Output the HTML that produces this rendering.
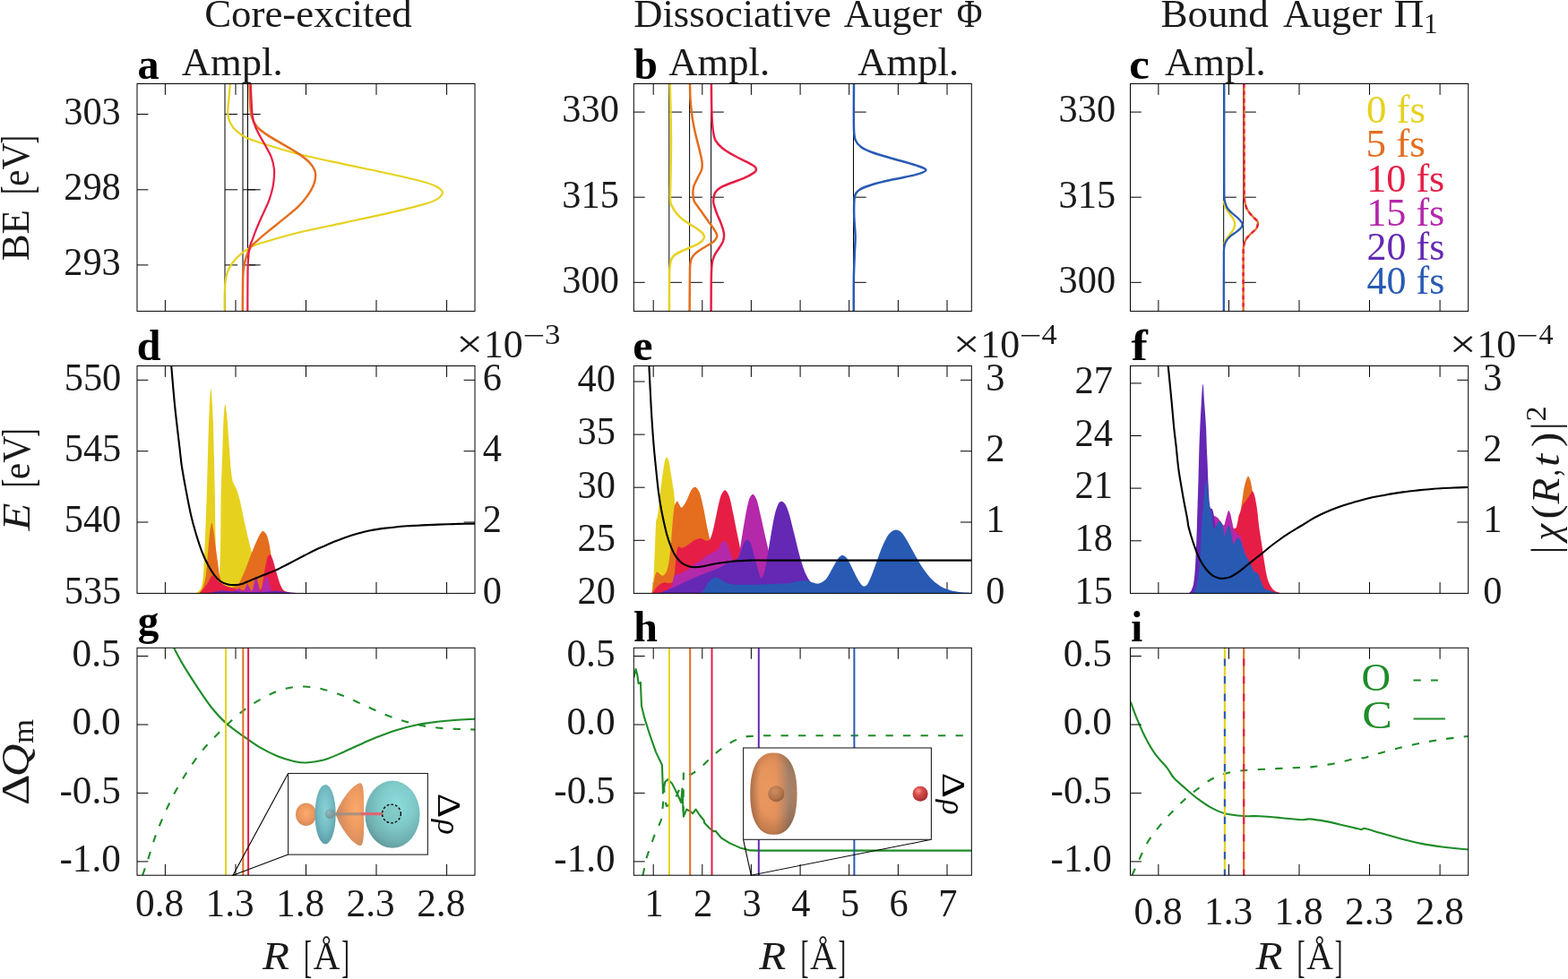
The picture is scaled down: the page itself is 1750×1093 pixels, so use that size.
<!DOCTYPE html>
<html lang="en"><head><meta charset="utf-8"><title>Figure</title>
<style>
html,body{margin:0;padding:0;background:#fff;}
body{width:1750px;height:1093px;overflow:hidden;}
svg{display:block;font-family:'Liberation Serif',serif;fill:#1a1a1a;}
</style></head><body>
<svg width="1750" height="1093" viewBox="0 0 1750 1093">
<defs>
<clipPath id="c00"><rect x="153" y="93.5" width="377" height="253.9"/></clipPath>
<clipPath id="c10"><rect x="153" y="408.5" width="377" height="253.9"/></clipPath>
<clipPath id="c20"><rect x="153" y="723.3" width="377" height="253.9"/></clipPath>
<clipPath id="c01"><rect x="707.3" y="93.5" width="377" height="253.9"/></clipPath>
<clipPath id="c11"><rect x="707.3" y="408.5" width="377" height="253.9"/></clipPath>
<clipPath id="c21"><rect x="707.3" y="723.3" width="377" height="253.9"/></clipPath>
<clipPath id="c02"><rect x="1261.5" y="93.5" width="377.2" height="253.9"/></clipPath>
<clipPath id="c12"><rect x="1261.5" y="408.5" width="377.2" height="253.9"/></clipPath>
<clipPath id="c22"><rect x="1261.5" y="723.3" width="377.2" height="253.9"/></clipPath>
<radialGradient id="gcy" cx="0.58" cy="0.36" r="0.78"><stop offset="0" stop-color="#8cdcdc"/><stop offset="0.4" stop-color="#80caca"/><stop offset="0.7" stop-color="#70b0b2"/><stop offset="0.9" stop-color="#5f9094"/><stop offset="1" stop-color="#50787c"/></radialGradient>
<radialGradient id="gcy2" cx="0.5" cy="0.42" r="0.75"><stop offset="0" stop-color="#86d2d6"/><stop offset="0.45" stop-color="#74bcc4"/><stop offset="0.8" stop-color="#5c9ca8"/><stop offset="1" stop-color="#4a7e8a"/></radialGradient>
<radialGradient id="gor" cx="0.5" cy="0.45" r="0.75"><stop offset="0" stop-color="#fcaa6c"/><stop offset="0.45" stop-color="#ee9860"/><stop offset="0.8" stop-color="#d08858"/><stop offset="1" stop-color="#a87050"/></radialGradient>
<radialGradient id="gor3" cx="0.72" cy="0.42" r="0.85"><stop offset="0" stop-color="#fcaa6a"/><stop offset="0.4" stop-color="#ec9860"/><stop offset="0.8" stop-color="#c88a60"/><stop offset="1" stop-color="#9a7258"/></radialGradient>
<linearGradient id="gor2" x1="0" y1="0" x2="1" y2="0"><stop offset="0" stop-color="#c88458"/><stop offset="0.22" stop-color="#f29c62"/><stop offset="0.55" stop-color="#ec965e"/><stop offset="0.74" stop-color="#c08c68"/><stop offset="0.84" stop-color="#a88872"/><stop offset="1" stop-color="#c89472"/></linearGradient>
<radialGradient id="gsh" cx="0.5" cy="0.45" r="0.62"><stop offset="0" stop-color="#6a4228" stop-opacity="0"/><stop offset="0.55" stop-color="#6a4228" stop-opacity="0.08"/><stop offset="0.85" stop-color="#6a4228" stop-opacity="0.35"/><stop offset="1" stop-color="#5a3822" stop-opacity="0.7"/></radialGradient>
<radialGradient id="gred" cx="0.38" cy="0.32" r="0.75"><stop offset="0" stop-color="#f49a92"/><stop offset="0.35" stop-color="#dc4c48"/><stop offset="1" stop-color="#9a2a2e"/></radialGradient>
<radialGradient id="gbr" cx="0.4" cy="0.35" r="0.75"><stop offset="0" stop-color="#cc8e62"/><stop offset="0.6" stop-color="#b4744a"/><stop offset="1" stop-color="#84553a"/></radialGradient>
<radialGradient id="ggr" cx="0.4" cy="0.35" r="0.7"><stop offset="0" stop-color="#a4acae"/><stop offset="1" stop-color="#6a7478"/></radialGradient>
</defs>
<path d="M251 93.5V347.4M251 127.5h14.2M251 211.8h14.2M251 295.9h14.2M271 93.5V347.4M271 127.5h14.2M271 211.8h14.2M271 295.9h14.2M276.5 93.5V347.4M276.5 127.5h14.2M276.5 211.8h14.2M276.5 295.9h14.2" fill="none" stroke="#000" stroke-width="1"/>
<g clip-path="url(#c00)" fill="none" stroke-width="2.2" stroke-linejoin="round">
<path d="M256.9 93.3C256.6 96.2 255.8 105 255.4 110.6C255 116 254 122.3 254.3 126.9C254.6 130.7 255.7 134.7 257.4 138C259.1 141.3 261.5 144.2 264.3 146.6C267.4 149.3 272 152.3 276.3 154.3C281.1 156.6 287.6 158.5 293.4 160.3C302.8 163.2 319.6 168.6 332.9 172C348 175.8 367.2 179.7 384.3 183.4C401.4 187.1 421.4 191 435.7 194.2C447.2 196.7 461.4 200 470 202.3C475.8 203.9 483.1 206.2 487.1 208.3C489.9 209.8 494 212.7 494 215.1C494 217.5 490.1 221.2 487.1 222.9C483.1 225.2 475.8 227.3 470 228.9C461.4 231.3 447.2 234.8 435.7 237.4C421.4 240.7 401.4 244.9 384.3 248.6C367.2 252.3 347.2 256.3 332.9 259.7C321.4 262.5 307.5 266.5 298.6 269.2C292.2 271.2 285.5 272.9 279.7 276C273.9 279.1 268.2 283.7 264 288C260.1 292 256.6 297 254.5 302C252.4 307 251.7 312.6 251.2 318C250.5 325.6 250.7 342.4 250.6 347.3" stroke="#e6d21e"/>
<path d="M278.6 93.3C278.7 97 278.9 109.7 279.2 115.7C279.5 120.3 279.4 125.1 280.6 129.4C281.8 133.7 283.7 138 286.6 141.4C289.6 145 294.4 148 298.6 150.9C303.4 154.2 310 157.7 315.7 161.1C321.4 164.5 328 168.1 332.9 171.4C337.1 174.3 341.9 177.9 344.9 180.9C347.4 183.4 349.7 186.8 350.9 189.4C351.9 191.5 352.3 194 352.2 196.3C352.1 199.2 351.3 203.3 350 206.6C348.5 210.3 345.8 214.8 343.1 218.6C340.2 222.6 336.7 227 332.9 230.6C328.3 235 321.4 240.4 315.7 245.1C310.1 249.8 303.5 254.9 298.6 258.9C294.5 262.2 289.8 266.2 286.6 269.1C284.2 271.3 281.5 273.3 279.7 276C277.7 279.2 275.7 284 274.4 288.2C273 292.5 272.1 297.3 271.6 302C271 307 271.1 312.7 271 318C270.9 325.6 270.8 342.4 270.8 347.3" stroke="#e46e1e" stroke-width="2.5"/>
<path d="M279.7 93.3C279.9 96.5 280.2 106.3 280.6 112.3C280.9 118 281.1 124.6 281.8 129.4C282.4 133.5 283.5 137.7 284.9 141.4C286.2 145 288.2 148.3 290 151.7C292 155.4 294.8 159.7 296.9 163.7C299 167.6 301.4 171.7 302.9 175.7C304.3 179.6 305.3 184.3 305.8 187.7C306.2 190.5 306.2 193.4 306 196.3C305.8 199.7 305.4 204.4 304.6 208.3C303.7 212.9 302.1 218.7 300.3 223.7C298.4 228.8 295.7 234 293.4 239.1C291.1 244.2 288.6 249.7 286.6 254.6C284.7 259.1 282.7 264.7 281.4 268.3C280.4 270.9 279.1 273.3 278.6 276C277.9 279.6 277.3 285.3 277 290C276.6 294.8 276.6 300 276.5 305C276.4 314.6 276.3 340.2 276.3 347.3" stroke="#e61e46"/>
</g>
<path d="M184.4 93.5v12.4 M184.4 347.4v-12.4M263 93.5v12.4 M263 347.4v-12.4M341.5 93.5v12.4 M341.5 347.4v-12.4M420 93.5v12.4 M420 347.4v-12.4M498.6 93.5v12.4 M498.6 347.4v-12.4M153 127.5h12.4M153 211.8h12.4M153 295.9h12.4" fill="none" stroke="#000" stroke-width="1"/>
<rect x="153" y="93.5" width="377" height="253.9" fill="none" stroke="#000" stroke-width="1"/>
<path d="M746.8 93.5V347.4M746.8 125.1h14.2M746.8 220.2h14.2M746.8 315.3h14.2M769.6 93.5V347.4M769.6 125.1h14.2M769.6 220.2h14.2M769.6 315.3h14.2M793.6 93.5V347.4M793.6 125.1h14.2M793.6 220.2h14.2M793.6 315.3h14.2M952.5 93.5V347.4M952.5 125.1h14.2M952.5 220.2h14.2M952.5 315.3h14.2" fill="none" stroke="#000" stroke-width="1"/>
<g clip-path="url(#c01)" fill="none" stroke-width="2.5" stroke-linejoin="round">
<path d="M747.7 93.3C747.8 98.5 748.3 114 748.5 124.3C748.7 135.2 749 147.2 749 158.6C749 170 748.7 183.2 748.5 192.9C748.4 200.9 748 211.6 748 216.9C748 219.6 747.9 222.9 748.2 225C748.4 226.6 749 228.1 749.7 229.6C750.6 231.5 752.1 234.3 753.7 236.4C755.5 238.8 758.1 241.7 760.6 243.9C763.1 246.1 765.9 247.8 768.6 249.6C771.5 251.5 775.2 253.5 777.8 255.3C780 256.8 782.7 258.8 784.1 260.4C785.2 261.7 786.1 263.6 786 265C785.9 266.4 784.6 267.9 783.5 269C782.1 270.3 779.8 271.9 777.8 273C775.3 274.3 771.6 275.7 768.6 277C765.6 278.3 762.2 279.7 759.5 281C757.1 282.2 754.3 283.6 752.6 285C751.1 286.2 750 287.9 749.2 289.6C748.4 291.4 748.1 293.8 747.8 295.9C747.4 298.5 747.2 302 747.1 305C747 313.6 746.9 340.3 746.9 347.4" stroke="#e6d21e"/>
<path d="M770 93.3C770.1 96.5 770.1 106 770.6 112.3C771.1 118.9 772 126.6 772.9 132.9C773.8 138.6 775 144.3 776.3 150C777.6 155.7 779.4 161.9 780.6 167.1C781.7 171.7 783.1 177.2 783.5 180.9C783.8 183.7 783.8 186.7 783.1 189.4C782.3 192.2 780.3 195.1 778.9 198C777.4 201.2 775.1 205.2 774.2 208.3C773.4 211.1 773.3 214.1 773.4 216.9C773.5 219.6 774 222.7 774.9 225C775.8 227.2 777.6 228.8 778.9 230.7C780.5 233 782.7 236 784.6 238.7C786.5 241.4 788.4 244 790.3 246.7C792.2 249.4 794.6 252.4 796.1 254.7C797.3 256.5 798.8 258.8 799.5 260.4C800 261.7 800.5 263.2 800.1 264.5C799.7 265.9 798.5 267.7 797.2 269C795.8 270.4 793.5 271.8 791.5 273C789.4 274.3 786.9 275.6 784.6 277C782.3 278.4 779.7 280.1 777.8 281.6C776.1 283 774.4 284.6 773.2 286.2C772.1 287.7 771.3 289.5 770.9 291.3C770.4 293.5 770.1 296.6 770 299.3C769.8 308.6 769.7 339.4 769.6 347.4" stroke="#e46e1e"/>
<path d="M793.9 93.3C794 98.5 794 115.7 794.3 124.3C794.5 131.2 795 139.5 795.7 144.9C796.2 149 796.8 153.5 798.6 156.9C800.4 160.3 803.3 163 806.3 165.4C809.9 168.2 815.4 171.4 820 174C824.5 176.5 830 178.9 833.7 180.9C836.6 182.5 840.6 184.6 842.3 186C843.3 186.8 844.1 188.2 844 189.4C843.9 190.6 842.6 192.1 841.4 192.9C839.1 194.5 834.1 197.2 830.3 198.9C826.2 200.8 820.9 202.3 816.6 204C812.6 205.6 807.7 207.2 804.6 209.1C802.1 210.6 799.5 212.5 798.1 215.1C796.7 217.8 796.1 222.2 796.1 225C796.1 227.4 797.1 229.6 797.8 231.9C798.5 234.4 799.6 237.3 800.6 239.9C801.7 242.6 803.1 245.2 804.1 247.9C805.1 250.5 806.2 253.4 806.9 255.9C807.5 258.1 808.1 260.4 808.1 262.7C808.1 265 807.7 267.4 806.9 269.6C806 271.9 804.3 274.2 802.9 276.5C801.5 278.8 799.5 281 798.3 283.3C797.1 285.5 796.1 287.8 795.5 290.2C794.8 292.7 794.5 295.5 794.3 298.2C794 301.6 793.9 306.6 793.8 310.8C793.7 319 793.6 341.3 793.6 347.4" stroke="#e61e46"/>
<path d="M953 93.3C953 101.8 952.7 133.6 953 144.1C953.1 148.1 953.3 152.8 954.6 156.1C955.8 159.2 958.1 162 960.8 164C964.1 166.4 969.7 168.8 974.5 170.5C980.8 172.8 990.5 175.3 998.5 177.7C1006.5 180 1016.7 182.6 1022.5 184.6C1026.3 185.9 1033.5 188 1033.5 189.7C1033.5 191.4 1026.4 193.8 1022.5 194.9C1016.7 196.6 1006.5 198.2 998.5 200C990.5 201.8 981.1 203.8 974.5 205.8C969.2 207.4 962.5 209.7 959.1 212C956.5 213.7 954.5 216.6 953.9 219.6C952.9 224.3 953.1 233.3 953.2 240.1C953.3 247.5 954.5 257.3 954.6 264.2C954.7 269.9 954.1 275.6 953.9 281.3C953.6 288.7 953.1 299.6 952.9 308.7C952.7 319.7 952.8 340.9 952.8 347.3" stroke="#285ab4"/>
</g>
<path d="M729.2 93.5v12.4 M729.2 347.4v-12.4M783.8 93.5v12.4 M783.8 347.4v-12.4M838.4 93.5v12.4 M838.4 347.4v-12.4M893.1 93.5v12.4 M893.1 347.4v-12.4M947.7 93.5v12.4 M947.7 347.4v-12.4M1002.4 93.5v12.4 M1002.4 347.4v-12.4M1057 93.5v12.4 M1057 347.4v-12.4M707.3 125.1h12.4M707.3 220.2h12.4M707.3 315.3h12.4" fill="none" stroke="#000" stroke-width="1"/>
<rect x="707.3" y="93.5" width="377" height="253.9" fill="none" stroke="#000" stroke-width="1"/>
<path d="M1365.7 93.5V347.4M1365.7 125.1h14.2M1365.7 220.2h14.2M1365.7 315.3h14.2M1387.6 93.5V347.4M1387.6 125.1h14.2M1387.6 220.2h14.2M1387.6 315.3h14.2" fill="none" stroke="#000" stroke-width="1"/>
<g clip-path="url(#c02)" fill="none" stroke-width="2.3" stroke-linejoin="round">
<path d="M1365.7 223.9C1366 225.1 1366.5 228.9 1367.5 231.2C1368.6 233.6 1370.6 236.2 1372.1 238.5C1373.6 240.7 1375.7 242.9 1376.7 244.9C1377.6 246.6 1378.2 248.6 1378.2 250.4C1378.2 252.2 1377.6 254.2 1376.7 255.9C1375.7 257.9 1373.6 260.2 1372.1 262.3C1370.7 264.3 1368.8 266.6 1367.8 268.3C1367.1 269.6 1366.5 271.8 1366.3 272.5" stroke="#e6d21e"/>
<path d="M1366.3 93.3C1366.3 114.3 1366.1 197.1 1366.3 219.3C1366.3 221.8 1366.8 224.3 1367.5 226.6C1368.2 228.8 1369 231.1 1370.3 233C1371.7 235 1373.8 236.8 1375.7 238.5C1377.7 240.3 1380.5 242.3 1382.2 244C1383.6 245.4 1385.3 247.5 1386 248.6C1386.4 249.2 1386.6 250.1 1386.5 250.8C1386.4 251.7 1386.1 253.1 1385.4 254C1384.4 255.3 1382.1 257.2 1380.3 258.6C1378.4 260.1 1375.8 261.5 1373.9 263.2C1372 264.8 1370.1 266.9 1368.9 268.7C1367.8 270.4 1367.1 272.3 1366.6 274.2C1366.1 276.3 1365.9 279.1 1365.9 281.5C1365.8 293.7 1365.8 336.3 1365.8 347.3" stroke="#285ab4"/>
<path d="M1388.4 93.3C1388.4 109.4 1388.5 168.8 1388.6 190C1388.6 200.1 1388.5 213.8 1388.7 220.2C1388.8 223 1389.2 225.8 1389.9 228.4C1390.6 231 1391.7 233.5 1393.1 235.7C1394.5 238 1396.9 240.4 1398.6 242.2C1400.1 243.8 1402.3 245.5 1403.2 246.7C1403.8 247.5 1404 248.5 1403.9 249.5C1403.8 250.9 1403.3 253.4 1402.3 255C1401.3 256.7 1399.2 258 1397.7 259.5C1396 261.2 1393.7 263.2 1392.2 265C1390.9 266.7 1389.7 268.5 1389 270.5C1388.3 272.5 1388 274.7 1387.8 276.9C1387.6 280.1 1387.6 285.6 1387.6 290C1387.6 301.7 1387.6 337.8 1387.6 347.3" stroke="#e46e1e"/>
<path d="M1388.4 93.3C1388.4 109.4 1388.5 168.8 1388.6 190C1388.6 200.1 1388.5 213.8 1388.7 220.2C1388.8 223 1389.2 225.8 1389.9 228.4C1390.6 231 1391.7 233.5 1393.1 235.7C1394.5 238 1396.9 240.4 1398.6 242.2C1400.1 243.8 1402.3 245.5 1403.2 246.7C1403.8 247.5 1404 248.5 1403.9 249.5C1403.8 250.9 1403.3 253.4 1402.3 255C1401.3 256.7 1399.2 258 1397.7 259.5C1396 261.2 1393.7 263.2 1392.2 265C1390.9 266.7 1389.7 268.5 1389 270.5C1388.3 272.5 1388 274.7 1387.8 276.9C1387.6 280.1 1387.6 285.6 1387.6 290C1387.6 301.7 1387.6 337.8 1387.6 347.3" stroke="#e61e46" stroke-dasharray="4.5 4"/>
</g>
<path d="M1292.9 93.5v12.4 M1292.9 347.4v-12.4M1371.5 93.5v12.4 M1371.5 347.4v-12.4M1450 93.5v12.4 M1450 347.4v-12.4M1528.5 93.5v12.4 M1528.5 347.4v-12.4M1607.1 93.5v12.4 M1607.1 347.4v-12.4M1261.5 125.1h12.4M1261.5 220.2h12.4M1261.5 315.3h12.4" fill="none" stroke="#000" stroke-width="1"/>
<rect x="1261.5" y="93.5" width="377.2" height="253.9" fill="none" stroke="#000" stroke-width="1"/>
<path d="M184.4 408.5v12.4 M184.4 662.4v-12.4M263 408.5v12.4 M263 662.4v-12.4M341.5 408.5v12.4 M341.5 662.4v-12.4M420 408.5v12.4 M420 662.4v-12.4M498.6 408.5v12.4 M498.6 662.4v-12.4M153 424.3h12.4M153 503.7h12.4M153 583h12.4M530 424.3h-12.4M530 503.7h-12.4M530 583h-12.4" fill="none" stroke="#000" stroke-width="1"/>
<g clip-path="url(#c10)">
<path d="M218.6 662.3C219.5 661.4 223.1 659.5 224.1 657.2C225.5 654.1 226.4 648.1 226.8 643.5C227.6 634.4 228.3 616 228.9 602.3C229.6 586.3 230.3 565.1 230.9 547.4C231.4 530.3 231.8 511.4 232.3 496C232.7 482.3 233.2 465.2 233.7 454.9C234.1 447.9 234.8 431.6 235.5 433.9C236.2 436.2 237.3 457 237.8 468.6C238.4 483.5 238.9 510 239.2 523.5C239.4 532.2 239.6 540.8 239.8 549.5C240 562.2 240.2 584.1 240.6 600C240.9 615 241.5 635.7 242 645C242.2 648.7 243 656 243.5 656C244 656 244.8 648.7 245 645C245.4 635.7 245.9 615 246.2 600C246.5 584.1 246.4 564.5 246.7 549.5C247 536.2 247.6 523 248.1 509.7C248.6 496.2 249 478.4 249.5 468.6C249.8 462.8 250.5 451.2 251.2 451.2C251.9 451.2 253 462.8 253.6 468.6C254.3 476.1 254.9 486.9 255.6 496C256.3 505.1 257 516.6 257.7 523.5C258.2 528.1 258.7 533.4 259.7 537.2C260.6 540.4 262.8 543 263.9 546.1C265.3 549.9 266.9 555.2 268 559.8C269.6 566.4 271.7 577.6 273.5 585.8C275.2 593.6 277.2 602.2 279 609.2C280.6 615.5 282.3 622 284 628C285.6 633.7 287.2 640.2 289 645C290.6 649.2 292.7 654.1 295 657C297 659.5 301.7 661.4 303 662.3Z" fill="#e6d21e"/>
<path d="M222 662.3C222.7 661.4 225.2 659.1 226 657C227.3 653.9 228.8 648.1 229.6 643.5C230.5 637.8 231 629.8 231.6 622.9C232.3 615 233.2 602.5 234 596C234.5 591.9 235.6 584.1 236.4 583.8C237.2 583.5 238 590.6 238.6 594C239.3 598.2 239.8 604.1 240.5 609.2C241.3 615.2 242.5 624 243.3 629.7C243.9 634.3 244.4 639.8 245.3 643.5C246.1 646.5 247.2 649.9 249 652C250.7 654 253.8 655.5 256 656C258 656.5 260.2 655.7 262 655C263.7 654.3 265.6 653.3 266.6 651.7C268.5 648.6 271.4 641.7 273.5 636.6C275.8 631.1 278 624.5 280.3 618.8C282.5 613.3 285.4 606.3 287.2 602.3C288.4 599.7 290.2 596.3 291.3 594.8C291.9 593.9 293 592.6 294 593.1C295.1 593.7 297.2 596.2 298.1 598.2C299.2 600.9 300.2 605.8 300.9 609.2C301.5 612.4 301.8 615.6 302.3 618.8C303 623.1 303.9 629.6 305 635C306.1 640.5 307.5 647.8 309 652C310.1 655 312.2 658.3 314 660C315.6 661.5 319 661.9 320 662.3Z" fill="#e46e1e"/>
<path d="M223 662.3C223.8 661.2 226.4 658 228 656C229.5 654.1 231 652.3 232.3 650.3C233.7 648.1 235.1 643.7 236.4 642.8C237.6 642 238.9 644.1 240 645C241.2 646 241.9 647.9 243.3 648.9C245.5 650.5 249.7 653 252.9 654.4C256 655.7 259.5 656.4 262.5 657.2C265.2 657.9 267.9 658.7 270.7 659C274.4 659.5 281.6 660.2 285 660C287.1 659.9 289.7 659 291 658C292.1 657.1 292.4 655.4 292.7 654C293.4 650.4 294.4 642 295.4 636.6C296.4 631.5 297.8 624.4 298.8 621.5C299.2 620.3 300.7 618.5 301.6 619C302.5 619.5 303.6 622.4 304.3 624.3C305.3 627.2 306.6 632.5 307.8 636.6C309.1 640.9 310.5 646.6 311.9 650.3C313 653.2 314.4 656.7 316 658.5C317.4 660 319.8 660.7 321.5 661.3C322.9 661.8 325.2 662.1 326 662.3Z" fill="#e61e46"/>
<path d="M236 662.3C238.3 661.9 245.7 660.4 250 660C254 659.6 259.5 660.3 262 660C263.2 659.8 264.1 658.6 265 658C265.8 657.5 266.6 656.3 267.3 656.5C268.1 656.7 268.7 658.4 269.5 659C270.2 659.5 271.3 660.6 272 660C272.8 659.3 273.8 656.4 274.5 655C275.1 653.9 275.5 651.5 276.2 651.7C276.9 651.9 277.7 654.6 278.5 656C279.3 657.5 280.2 661.2 281 660.5C281.8 659.8 282.7 654.7 283.5 652C284.3 649.4 285.1 644.3 285.8 644.1C286.6 643.9 287.3 648.7 288 651C288.9 653.8 290 661 291 661C292 661 292.9 653.9 294 651C295 648.4 296.4 643.5 297.5 643.5C298.6 643.5 299.6 648.5 300.5 651C301.5 653.8 301.9 658.3 303.5 660C305 661.6 307.8 660.8 310 661C314.4 661.4 326.7 662.1 330 662.3Z" fill="#b428aa"/>
<path d="M232 662.3C233.3 662 237.3 661 240 660.6C243 660.1 247 659.6 250 659.6C252.7 659.6 255.8 660.4 258 660.4C259.7 660.4 261.3 659.7 263 659.8C265 659.9 267.6 660.7 270 660.8C273.7 661 280 661 285 661C290 661 296.2 660.8 300 660.6C302.7 660.4 305.3 659.6 308 659.6C310.7 659.6 313.3 660.1 316 660.4C318.8 660.7 322 661.1 325 661.4C328.2 661.7 333.3 662.1 335 662.3Z" fill="#6428b4"/>
</g>
<path d="M191.2 408.4C191.9 416.1 193.7 439.4 195.3 454.9C196.9 470.6 199.6 492 200.8 502.9C201.5 508.6 201.9 514.3 202.8 520C203.9 527.4 205.9 538.3 207.6 547.4C209.3 556.5 211.3 566.9 213.1 574.9C214.7 581.8 216.6 588.7 218.6 595.5C220.7 602.4 223.1 610.1 225.4 616C227.4 621.2 230 626.8 232.3 631.1C234.3 634.9 236.9 639.1 239.2 642.1C241.2 644.7 243.5 647.3 246 649C248.5 650.7 251.6 651.7 254.3 652.4C257 653.1 259.8 653.2 262.5 653.1C265.2 653 268.1 652.5 270.7 651.7C273.7 650.8 277.1 648.9 280.3 647.6C284.2 646 289.4 643.9 294 642.1C298.6 640.3 303.3 638.6 307.8 636.6C312.4 634.5 317 632 321.5 629.7C326.9 626.9 335 622.6 340 620C343.8 618.1 347.6 616.1 351.4 614.3C355.2 612.5 359.1 610.9 362.9 609.2C366.7 607.5 370.5 605.8 374.3 604.3C378.1 602.8 381.9 601.3 385.7 600C389.5 598.7 393.4 597.4 397.2 596.3C401 595.2 404.8 594.1 408.6 593.2C412.4 592.3 416.2 591.7 420 591.1C423.8 590.5 427.7 590 431.5 589.5C435.3 589 439.1 588.7 442.9 588.3C446.7 587.9 450.5 587.6 454.3 587.3C458.1 587 462 586.9 465.8 586.7C469.6 586.5 473.4 586.3 477.2 586.1C481 585.9 484.9 585.7 488.7 585.6C492.5 585.5 496.3 585.4 500.1 585.3C503.9 585.2 507.7 585 511.5 584.9C516.5 584.8 526.9 584.6 530 584.6" fill="none" stroke="#000" stroke-width="2.1" clip-path="url(#c10)"/>
<rect x="153" y="408.5" width="377" height="253.9" fill="none" stroke="#000" stroke-width="1"/>
<path d="M729.2 408.5v12.4 M729.2 662.4v-12.4M783.8 408.5v12.4 M783.8 662.4v-12.4M838.4 408.5v12.4 M838.4 662.4v-12.4M893.1 408.5v12.4 M893.1 662.4v-12.4M947.7 408.5v12.4 M947.7 662.4v-12.4M1002.4 408.5v12.4 M1002.4 662.4v-12.4M1057 408.5v12.4 M1057 662.4v-12.4M707.3 426h12.4M707.3 485.1h12.4M707.3 544.2h12.4M707.3 603.3h12.4M1084.3 424.3h-12.4M1084.3 503.7h-12.4M1084.3 583h-12.4" fill="none" stroke="#000" stroke-width="1"/>
<g clip-path="url(#c11)">
<path d="M727.4 662.3C727.8 659.2 729.1 649.8 729.5 643.5C730.1 634.8 730.5 620.3 731 610C731.4 600.6 731.8 587.1 732.2 581.7C732.3 580.3 733.3 579 733.6 577.6C734.1 575.3 734.6 571.2 735 568C735.6 563.3 736.4 554.8 737 549.5C737.5 545 738 540.3 738.6 536C739.2 531.8 739.9 527.2 740.5 523.5C741 520.3 741.6 516.2 742.2 514C742.6 512.7 743.5 510.4 744.2 510.4C744.9 510.4 745.8 512.7 746.2 514C746.8 516.2 747.5 520.3 748 523.5C748.6 527.2 749.3 531.8 750 536C750.7 540.3 751.6 545 752.1 549.5C752.7 554.4 753 560 753.5 565.3C754.1 572 755.1 581.8 756 590C757.1 600 758.5 615 760 625C761.3 633.4 763 643.8 765 650C766.4 654.5 770.8 660.2 772 662.3Z" fill="#e6d21e"/>
<path d="M727.6 662.3C728.1 659.2 730 647.4 730.9 643.5C731.3 641.8 732.1 639.3 732.9 638.7C733.7 638.1 734.7 639.5 735.5 640C736.6 640.7 738.4 643.1 739.8 642.8C741.2 642.5 743.1 639.9 743.9 638C745 635.4 746 630.7 746.6 627C747.4 622.2 748.1 615.1 748.7 609.2C749.4 601.7 750.1 589 750.8 581.7C751.3 576.2 752 569 752.8 565.3C753.3 563.2 754.7 559.8 755.6 559.5C756.5 559.2 757.4 562.3 758.3 563.5C759.1 564.6 759.8 567.2 761 566.6C762.2 566 764.5 562.2 765.8 559.8C767.5 556.6 769.6 550.1 771.3 547.4C772.4 545.7 774.5 543.2 776.1 543.7C777.7 544.2 779.9 547.7 780.9 550.2C782.4 554 783.8 561.1 785 566.6C786.4 573 788 582.7 789.2 588.6C790.1 593.2 791.3 597.7 792.2 602.3C793.3 608.4 794.5 617.9 796 625C797.5 631.8 799.2 639.5 801.5 645C803.5 649.8 806.9 655.1 810 658C812.7 660.5 818.3 661.6 820 662.3Z" fill="#e46e1e"/>
<path d="M728.1 662.3C728.7 661.4 730.3 658.8 731.6 657.2C732.8 655.7 734.1 654.1 735.7 653C737.3 651.9 739.4 650.6 741.2 650.3C743 650 744.9 651.2 746.6 651C748.3 650.8 750.5 650.4 751.4 648.9C752.4 647.2 752.5 643.5 752.8 640.7C753.4 635.7 754.2 623.8 754.9 618.8C755.3 616 755.8 611.7 756.9 610.5C758 609.3 760.1 612 761.7 611.6C763.7 611.1 766.4 609.2 768.6 607.8C770.9 606.4 773.1 604.1 775.4 603C777.5 601.9 780.2 600.8 782.3 600.9C784.4 601 786.1 603.5 787.8 603.7C789.3 603.9 791.4 603.6 792.2 602.3C793.6 600.2 795 595.1 796 591.3C797.3 586.3 798.7 578.3 800.1 572.1C801.4 566.2 802.8 558.4 804.3 554.3C805.3 551.6 807.5 547.2 809.1 547.2C810.7 547.2 812.9 551.6 813.9 554.3C815.4 558.4 816.7 566.1 818 572.1C819.4 578.5 820.9 586.5 822.1 592.7C823.2 598.2 824.5 603.7 825.5 609.2C826.6 615.4 827.5 623.5 829 630C830.4 636.1 832.4 643.3 834.4 648C836 651.7 838.4 655.6 841 658C843.5 660.2 848.5 661.6 850 662.3Z" fill="#e61e46"/>
<path d="M745 662.3C745.2 661.4 745.3 658.5 746 657.2C746.7 655.9 748.7 655.7 749.4 654.4C750.2 653 750.3 650.7 750.8 648.9C751.4 646.9 751.9 643.4 752.8 642.1C753.5 641.2 755.1 641.7 756.2 641.4C757.7 640.9 759.9 640.2 761.7 639.3C763.8 638.3 766.4 636.7 768.6 635.2C770.9 633.6 773.1 631.3 775.4 629.7C777.6 628.2 780.1 627.1 782.3 625.6C784.6 624 786.9 621.6 789.2 620.1C791.3 618.7 794 617.8 796 616.7C797.9 615.7 800.1 614.9 801.5 613.3C803 611.6 803.8 607.9 804.9 606.4C805.7 605.3 807.2 603.8 808.4 604C809.5 604.2 811 606.3 811.8 607.8C812.9 610 814.2 614.4 815.2 617.4C816.2 620.1 817.1 623.8 818 625.6C818.6 626.7 819.7 628.5 820.7 628C821.7 627.5 823.6 624.9 824.1 622.9C825.2 618.6 826.4 609.2 827.6 602.3C828.9 594.8 830.3 584.9 831.7 577.6C832.9 571.2 834.4 562.7 835.8 558.4C836.6 555.9 838.7 551.8 840.2 551.8C841.7 551.8 843.8 555.9 844.7 558.4C846.1 562.2 847.5 569.4 848.8 574.9C850.3 581.3 852.1 590.2 853.6 596.8C854.9 602.7 856.4 608.7 857.8 614.6C859.2 620.6 860.5 627.3 862 633C863.4 638.4 865.2 644.8 867 649C868.5 652.3 870.5 655.8 873 658C875.5 660.2 880.5 661.6 882 662.3Z" fill="#b428aa"/>
<path d="M734 662.3C735.9 661.7 741.8 659.8 745.3 658.5C748.6 657.3 752.2 655.6 754.9 654.4C757.2 653.3 759.4 652.1 761.7 651C765.1 649.4 770.8 646.8 775.4 644.8C780 642.9 784.6 641.1 789.2 639.3C793.8 637.5 799.5 635.5 802.9 633.9C805.3 632.8 807.4 631 809.7 629.7C811.9 628.4 814.2 627.1 816.5 626C818.8 624.9 821.8 624.8 823.5 622.9C825.4 620.8 826.4 616.3 827.6 613.3C828.8 610.5 829.9 606.8 831 605C831.7 603.8 833.2 602.5 834.4 602.7C835.5 602.9 837.2 604.8 837.9 606.4C839 609.1 840.2 614.7 841.3 618.8C842.5 623.4 844 629.4 845.4 633.9C846.6 637.8 848.2 644.6 849.5 645.5C850.8 646.4 852.2 641.6 852.9 639.3C854 635.3 855.3 627.5 856.4 621.5C857.7 614.4 859.1 604.6 860.5 596.8C861.8 589.5 863.2 580.6 864.6 574.9C865.6 570.7 867.4 565 868.7 562.5C869.4 561.1 871.2 559.6 872.6 559.8C874 560 876 562.2 877 563.9C878.4 566.4 880 571.1 881.1 574.9C882.7 580.4 884.8 589.5 886.6 596.8C888.4 604.1 890.2 612.2 892 618.8C893.6 624.8 895.7 631.8 897.5 636.6C899 640.4 900.9 644.5 903 647.6C904.9 650.4 907.3 653 910 655C912.8 657.1 916.7 658.8 920 660C923.2 661.2 928.3 661.9 930 662.3Z" fill="#6428b4"/>
<path d="M782.3 662.3C783 661.4 785.2 659 786.4 657.2C787.8 655.2 789.1 652.1 790.5 650.3C791.7 648.7 793.3 647.1 794.7 646.2C795.9 645.4 797.4 644.7 798.8 644.8C800.4 644.9 802.5 646 804.3 646.9C806.1 647.8 807.8 649.4 809.7 650.3C811.8 651.2 814.2 652.1 816.6 652.4C820 652.8 825.7 652.8 830.3 652.8C836 652.8 844 652.6 850.9 652.4C857.8 652.2 866.6 651.6 871.5 651.4C874.3 651.3 877.3 651.6 880 651.3C882.6 651 885 649.9 887.5 649.4C890.2 648.8 893.8 648 896.3 647.9C898.4 647.8 900.7 648.2 902.6 648.7C904.4 649.1 905.9 650.1 907.7 650.6C909.5 651.1 911.5 652.1 913.3 651.6C915.6 651 919.3 649.2 921.5 646.9C923.9 644.4 925.8 640.2 927.8 636.8C929.9 633.2 932.5 628 934.1 625.5C935 624.1 936.2 622.4 937.2 621.5C938 620.8 939.1 620.1 940.1 620.1C941.1 620.1 942.6 620.7 943.5 621.5C944.6 622.4 945.7 624 946.6 625.5C948 627.8 950 632.2 951.7 635.5C953.4 638.9 955.1 642.8 956.7 645.6C958 648 959.8 651 961.1 652.5C962 653.5 963.4 654.6 964.5 654.6C965.6 654.6 967.2 653.6 968 652.5C969.4 650.4 971.5 645.4 973 641.8C974.7 637.7 976.4 632.6 978.1 628C979.8 623.4 981.4 618.4 983.1 614.2C984.6 610.4 986.4 606 988.1 602.9C989.5 600.2 991.2 597.2 993.1 595.3C994.8 593.6 997.3 591.7 999.4 591.5C1001.5 591.3 1004 592.6 1005.7 594.1C1007.8 596 1010.1 599.8 1012 602.9C1014.1 606.2 1016.2 610.4 1018.3 614.2C1020.4 618 1022.5 622 1024.6 625.5C1026.6 628.9 1028.7 632.5 1030.8 635.5C1032.8 638.3 1035 641.3 1037.1 643.7C1039 645.9 1041.3 648.2 1043.4 650C1045.4 651.7 1047.6 653.1 1049.7 654.4C1051.7 655.6 1053.9 656.7 1056 657.5C1058 658.3 1060.2 658.9 1062.3 659.4C1064.8 660 1068.1 660.6 1071.1 660.9C1074.8 661.3 1082.2 661.5 1084.4 661.8C1084.6 661.8 1084.4 662.3 1084.4 662.4Z" fill="#285ab4"/>
</g>
<path d="M724.4 408.4C724.8 416.1 725.9 440.3 726.7 454.9C727.5 468.6 728.6 484.8 729.5 496C730.2 504.7 731.1 513.3 732 522C732.9 530.9 733.9 541.4 735 549.5C735.9 556.6 737 563.7 738.4 570.8C739.9 578.4 742.1 588.5 743.9 595.4C745.4 601 747.6 607.4 749.4 611.9C750.9 615.5 752.9 619.3 754.9 622.2C756.8 624.8 759.4 627.4 761.7 629.1C763.7 630.6 766.3 631.5 768.6 632.2C770.8 632.9 773.1 633.2 775.4 633.2C778.1 633.2 781.8 632.7 785 632.2C788.4 631.6 792.3 630.4 796 629.7C800.1 629 805.1 628.3 809.7 627.7C814.3 627.1 818.9 626.6 823.5 626.3C828.1 626 832.6 625.7 837.2 625.6C844.1 625.5 855.5 625.6 864.6 625.6C905.8 625.6 1047.8 625.6 1084.4 625.6" fill="none" stroke="#000" stroke-width="2.1" clip-path="url(#c11)"/>
<rect x="707.3" y="408.5" width="377" height="253.9" fill="none" stroke="#000" stroke-width="1"/>
<path d="M1292.9 408.5v12.4 M1292.9 662.4v-12.4M1371.5 408.5v12.4 M1371.5 662.4v-12.4M1450 408.5v12.4 M1450 662.4v-12.4M1528.5 408.5v12.4 M1528.5 662.4v-12.4M1607.1 408.5v12.4 M1607.1 662.4v-12.4M1261.5 427.9h12.4M1261.5 486.5h12.4M1261.5 545.1h12.4M1261.5 603.8h12.4M1638.7 424.3h-12.4M1638.7 503.7h-12.4M1638.7 583h-12.4" fill="none" stroke="#000" stroke-width="1"/>
<g clip-path="url(#c12)">
<path d="M1378 662.3C1378.3 655.2 1379.2 632.9 1380 620C1380.7 608.3 1381.7 593.9 1382.5 585C1383.1 578.9 1384.4 571.4 1385.1 566.9C1385.5 563.9 1386 560.8 1386.5 557.8C1387 554.3 1387.6 549.4 1388.3 545.9C1388.9 542.8 1389.8 539.1 1390.6 536.7C1391.2 534.9 1392.3 531.7 1393.1 531.7C1393.9 531.7 1395.1 534.9 1395.6 536.7C1396.4 539.5 1397.2 544.4 1397.9 548.2C1398.7 552.4 1399.7 557.4 1400.5 562C1401.5 568.1 1402.8 577.3 1404 585C1405.2 593 1406.8 601.6 1408 610C1409.3 619.2 1410.3 631.3 1412 640C1413.4 647.6 1417 658.6 1418 662.3Z" fill="#e46e1e"/>
<path d="M1375 662.3C1375.2 655.2 1375.6 632 1376 620C1376.3 610 1376.7 595.2 1377.3 590.1C1377.4 589.3 1379.2 589.9 1379.6 589.2C1380.3 587.8 1380.9 584.3 1381.4 581.9C1381.9 579.6 1382.2 577 1382.8 575C1383.4 573.2 1384.4 571.5 1385.1 569.7C1385.8 567.9 1386 565.9 1386.9 564.2C1388 562.2 1390.1 559.8 1391.5 557.8C1392.8 556 1394.1 553.8 1395.2 552.3C1396.1 551 1397.1 548.5 1397.9 548.6C1398.7 548.8 1399.7 551.6 1400.2 553.2C1400.9 555.5 1401.5 559.3 1402 562.3C1402.5 565.3 1403 568.4 1403.4 571.5C1403.9 575.8 1404.5 582.7 1405.2 588.3C1406 594.1 1407.1 600.5 1408 606.6C1408.9 612.7 1409.8 619.1 1410.7 624.9C1411.6 630.4 1412.6 637.1 1413.5 641.4C1414.2 644.5 1415.1 647.9 1416.2 650.5C1417.1 652.8 1418.5 655.2 1419.9 656.9C1421.1 658.4 1422.7 659.7 1424.4 660.6C1426.1 661.5 1429 662 1429.9 662.3Z" fill="#e61e46"/>
<path d="M1340 662.3C1340.8 655.2 1343.3 632 1345 620C1346.4 610 1348.7 597.2 1350 590C1350.8 585.6 1352.1 579.4 1353 577C1353.3 576.2 1354.5 575.8 1355.4 575.9C1356.3 576 1357.7 577 1358.6 577.8C1359.7 578.8 1361 580.5 1362.2 581.9C1363.4 583.4 1365 586.6 1365.9 586.5C1366.8 586.4 1367.2 582.8 1367.7 581C1368.4 578.7 1369.4 574.5 1370 572.7C1370.3 571.8 1371 569.9 1371.5 570.1C1372 570.3 1372.8 572.4 1373.2 573.7C1373.8 575.7 1374.4 579.2 1375 581.9C1375.6 584.6 1376.1 587.8 1376.9 590.1C1377.6 592 1378.5 594.4 1379.6 595.6C1380.5 596.6 1382.4 596.4 1383.3 597.4C1384.4 598.6 1385.4 601 1386 602.9C1386.8 605.2 1387 608.5 1387.8 611.2C1388.6 614 1389.5 616.8 1390.6 619.4C1391.7 622 1393.2 624.4 1394.3 627C1395.5 629.8 1397.3 632.8 1398 636C1399.3 641.9 1401.3 657.9 1402 662.3Z" fill="#b428aa"/>
<path d="M1326.5 662.3C1327 661.9 1328.7 660.8 1329.3 659.7C1330.2 658 1331.5 654.9 1332 652.3C1332.8 648 1333.5 640.1 1333.9 634C1334.4 626.4 1334.8 615.6 1335.2 606.6C1335.6 597.6 1335.8 588.7 1336.1 579.7C1336.5 567.8 1337.1 548.2 1337.5 534.9C1337.8 523.2 1338.1 508.8 1338.4 499.7C1338.6 493.1 1338.9 486.6 1339.2 480C1339.6 471.7 1340.2 458.5 1340.8 450C1341.3 442.9 1341.9 428.8 1342.5 428.8C1343.1 428.8 1343.7 442.9 1344.2 450C1344.8 458.5 1345.8 471.7 1346.2 480C1346.5 486.6 1346.6 493.6 1346.8 499.7C1347 505.3 1347.4 511 1347.6 516.6C1347.9 523.2 1348.1 531.9 1348.5 539.5C1348.9 547.1 1349.5 557.6 1349.9 562.3C1350.1 564.2 1350.8 566.9 1351.2 567.8C1351.4 568.2 1352.3 567.4 1352.6 567.8C1353.1 568.4 1353.7 570.2 1354 571.5C1354.5 573.5 1355 577 1355.4 579.7C1355.8 582.7 1356 586 1356.5 589.2C1357.3 594.2 1358.7 603.1 1360 610C1362.2 622.2 1368.3 653.6 1370 662.3Z" fill="#6428b4"/>
<path d="M1332 662.3C1332.5 661.2 1334.5 658.3 1335.2 656C1336.1 652.8 1336.9 647.5 1337.5 643.2C1338.2 638 1338.9 631 1339.3 624.9C1339.8 617.3 1340.3 604.9 1340.7 597.4C1341 591.5 1341.2 585.6 1341.6 579.7C1342 573.9 1342.5 568.1 1343 562.3C1343.5 556.3 1344.3 548.4 1344.8 544C1345.1 541.3 1345.7 536 1346.2 536C1346.7 536 1347.3 541.3 1347.6 544C1348 547.6 1348.5 554 1348.9 557.8C1349.3 560.8 1349.9 564.9 1350.3 566.9C1350.5 568 1351 568.9 1351.2 570C1351.6 572 1352.1 576.1 1352.6 579.1C1353.1 582.4 1353.8 588 1354.4 589.7C1354.6 590.3 1355.9 589.7 1356.3 589.2C1357 588.4 1357.8 585.8 1358.6 584.6C1359.3 583.5 1360.4 581.8 1361.3 581.9C1362.2 582 1363.5 583.8 1364 585.1C1364.8 586.9 1365.4 590.7 1365.9 592.9C1366.3 594.7 1366.3 598.4 1366.8 598.4C1367.2 598.4 1368 594.7 1368.6 592.9C1369.3 590.9 1370.1 586.8 1370.9 586.5C1371.7 586.2 1372.7 589.4 1373.2 591C1373.9 593.3 1374.4 597.5 1375 600.2C1375.5 602.6 1376.1 606.9 1376.7 607.5C1377.3 608.1 1377.8 605 1378.7 603.9C1379.6 602.8 1380.8 601 1381.9 601.1C1383 601.2 1384.4 603.3 1385.1 604.8C1386.1 606.9 1386.7 611 1387.8 613.9C1388.8 616.7 1390.3 619.8 1391.5 622.2C1392.6 624.4 1394.1 626.5 1395.2 628.6C1396.2 630.7 1397.2 633.4 1397.9 635C1398.4 636.1 1398.9 637.5 1399.7 638.2C1400.4 638.9 1401.8 638.4 1402.5 639.1C1403.4 639.9 1404.5 641.7 1405.2 643.2C1406.1 645.1 1406.9 648.1 1408 650.5C1409.1 652.9 1410.1 655.9 1411.6 657.4C1413 658.7 1415.3 658.6 1417.1 659.2C1419.1 659.9 1421.3 661.1 1423.5 661.5C1426.1 662 1431.2 662.2 1432.7 662.3Z" fill="#285ab4"/>
</g>
<path d="M1303.7 408.4C1304.5 416.1 1307.1 443 1308.2 454.9C1309 463.3 1309.7 472.5 1310.5 480C1311.2 486.6 1312.1 493.1 1312.8 499.7C1313.6 507.3 1314.4 517.1 1315.6 525.7C1317 535.4 1319.4 548.8 1321 557.8C1322.3 565.1 1324.3 574.6 1325.2 579.7C1325.7 582.6 1325.8 585.5 1326.5 588.3C1327.6 592.8 1330 600.8 1332 606.6C1333.9 612.2 1336.1 618.4 1338.4 623.1C1340.4 627.3 1343.2 631.8 1345.7 635C1347.8 637.8 1350.6 640.5 1353.1 642.3C1355.3 643.8 1358.3 644.9 1360.4 645.5C1362.2 646 1364.1 646 1365.9 645.8C1368 645.6 1370.9 645.1 1373.2 644.1C1375.9 642.9 1379.4 640.6 1382.3 638.6C1385.3 636.5 1388.5 633.7 1391.5 631.3C1394.5 628.9 1397.6 626.4 1400.6 624C1403.6 621.6 1406.8 619.2 1409.8 616.7C1412.8 614.3 1415.9 611.7 1418.9 609.3C1421.9 607 1425 604.7 1428.1 602.5C1431.1 600.3 1434.1 598.1 1437.2 596.1C1441.1 593.6 1447.1 590.1 1451.4 587.5C1455.2 585.2 1459.1 582.6 1462.9 580.4C1466.6 578.2 1470.5 576.2 1474.3 574.3C1478 572.5 1481.9 570.8 1485.7 569.2C1489.5 567.6 1493.4 566.2 1497.2 564.9C1501 563.6 1504.8 562.5 1508.6 561.4C1512.4 560.3 1516.2 559.3 1520 558.3C1523.8 557.3 1527.7 556.1 1531.5 555.2C1535.3 554.4 1539.1 553.9 1542.9 553.2C1546.7 552.5 1550.5 551.7 1554.3 551.1C1558.1 550.5 1562 549.9 1565.8 549.4C1569.6 548.9 1573.4 548.4 1577.2 548C1581 547.6 1584.9 547.2 1588.7 546.8C1592.5 546.4 1596.3 546 1600.1 545.7C1603.9 545.4 1607.7 545.2 1611.5 545C1615.3 544.8 1619.2 544.6 1623 544.5C1627.5 544.3 1636.1 544.1 1638.7 544" fill="none" stroke="#000" stroke-width="2.1" clip-path="url(#c12)"/>
<rect x="1261.5" y="408.5" width="377.2" height="253.9" fill="none" stroke="#000" stroke-width="1"/>
<g clip-path="url(#c20)" fill="none" stroke="#1e8c28" stroke-width="2.1">
<path d="M194.2 723.5C195.9 726.6 200.8 736.2 204.5 742.4C208.9 749.8 215.2 759.6 220.5 767.6C225.7 775.4 231.2 783.8 236.5 790.5C241.4 796.6 246.8 802.5 252.5 807.6C258.2 812.7 264.7 816.9 270.8 821.3C276.8 825.6 282.7 830.1 289.1 833.9C295.6 837.7 303.2 841.5 309.7 844.2C315.6 846.6 322.7 848.7 328 849.9C332.5 850.9 337.1 851.7 341.7 851.5C347 851.3 354 850.4 360 848.8C366.1 847.2 372.3 844.4 378.3 841.9C384.4 839.4 390.5 836.2 396.6 833.5C403.5 830.5 411.8 826.6 419.4 823.6C426.9 820.6 434.7 817.6 442.3 815.2C449.8 812.8 457.6 810.8 465.2 809.2C472.8 807.6 480.5 806.7 488.1 805.8C495.7 804.9 503.9 804.2 510.9 803.7C517.3 803.2 526.9 802.9 530.1 802.8"/>
<path d="M159 977.3C159.9 974.8 162.7 967.1 164.4 962C167 954.1 170.7 940.5 174.7 930C179.1 918.6 185 904.8 190.7 893.4C196.2 882.4 202.9 870.9 209 861.4C214.6 852.7 221.2 843.6 227.3 836.2C232.9 829.3 239.5 822.9 245.6 816.8C251.5 810.9 257.8 804.8 263.9 799.6C269.7 794.7 276.1 789.9 282.2 785.9C288.1 782.1 294.4 778.5 300.5 775.6C306.4 772.8 312.5 770.2 318.8 768.7C325.3 767.2 332.5 766.4 339.4 766.5C346.3 766.6 353.2 767.8 360 769.4C367.2 771.1 375.4 773.8 382.8 776.7C390.4 779.6 398.1 783.6 405.7 787C413.3 790.4 421 794.2 428.6 797.3C436.1 800.3 443.9 803.1 451.5 805.3C459 807.5 466.7 809.3 474.3 810.6C481.9 811.9 489.5 812.8 497.2 813.3C506.5 813.9 524.6 814.3 530.1 814.5" stroke-dasharray="8.3 11.2"/>
</g>
<line x1="252" y1="723.3" x2="252" y2="977.2" stroke="#e6d21e" stroke-width="2"/>
<line x1="271.3" y1="723.3" x2="271.3" y2="977.2" stroke="#e46e1e" stroke-width="2"/>
<line x1="277.1" y1="723.3" x2="277.1" y2="977.2" stroke="#e61e46" stroke-width="2"/>
<path d="M184.4 723.3v12.4 M184.4 977.2v-12.4M263 723.3v12.4 M263 977.2v-12.4M341.5 723.3v12.4 M341.5 977.2v-12.4M420 723.3v12.4 M420 977.2v-12.4M498.6 723.3v12.4 M498.6 977.2v-12.4M153 732.5h12.4M153 809h12.4M153 885.4h12.4M153 961.9h12.4" fill="none" stroke="#000" stroke-width="1"/>
<rect x="153" y="723.3" width="377" height="253.9" fill="none" stroke="#000" stroke-width="1"/>
<path d="M321.6 863.5L260 977.2L321.6 954.1" fill="none" stroke="#000" stroke-width="1.1"/>
<rect x="321.6" y="863.5" width="155.8" height="90.6" fill="#fff" stroke="#222" stroke-width="1.1"/>
<ellipse cx="341.6" cy="909.2" rx="11.6" ry="12.7" fill="url(#gor)"/>
<ellipse cx="363.1" cy="909.2" rx="11.6" ry="33.2" fill="url(#gcy2)"/>
<circle cx="368.3" cy="908.6" r="5.4" fill="url(#ggr)" opacity="0.6"/>
<path d="M374.7 909C379 896 391 878.5 400.5 874.4C405.6 872.8 406.4 880 406.2 909C406.4 938.5 405.6 945.5 400.5 943.9C391 940 379 922 374.7 909Z" fill="url(#gor3)"/>
<rect x="372.5" y="907.2" width="31" height="3.2" fill="#9a8c84" opacity="0.8"/>
<ellipse cx="438" cy="909.2" rx="30.6" ry="37.6" fill="url(#gcy)"/>
<rect x="403" y="907" width="24" height="3.3" fill="#dc6874"/>
<circle cx="437" cy="908.5" r="10.4" fill="#7cc0b8" fill-opacity="0.5" stroke="#000" stroke-width="1.3" stroke-dasharray="2.7 2.1"/>
<g clip-path="url(#c21)" fill="none" stroke="#1e8c28" stroke-width="2.1" stroke-linejoin="round">
<path d="M707.4 756.2L709.6 747L711.4 753.9L712.6 763L714.9 761.9L716 788.2L719.4 801.9L725.2 820.2L732 839.6L738.9 854L740 885.4L742.3 872.8L745.7 870.1L750.3 875.1L756 886.5L760.2 896L761.4 880.5L762.9 911.7L766.3 903.7L770 905.5L773.2 908.2L776.6 903.7L781.2 910.5L785.8 916.2L786 918.5L791.5 924.3L796.1 928.1L798.5 927.8L805.2 935.7L814.4 941.4L825.8 946.4L837.2 949.4L845 949.6L1084.4 949.6"/>
<path d="M717.4 977.3L721.7 957.4L729.7 934.5L737.7 916.2L740 898L741.2 880L741.8 893L744 900L748 898L754.9 888.8L760.6 876.2L762.3 880L762.6 905L762.9 859.1L766 862L770.9 864.8L780 859.1L786.9 852.2L796.1 843.1L807.5 833.9L818.9 827.1L830.4 822.5L846.4 821.3L1084.4 821.3" stroke-dasharray="8.3 11.2"/>
</g>
<line x1="746.9" y1="723.3" x2="746.9" y2="977.2" stroke="#e6d21e" stroke-width="2"/>
<line x1="770.2" y1="723.3" x2="770.2" y2="977.2" stroke="#e46e1e" stroke-width="2"/>
<line x1="794.5" y1="723.3" x2="794.5" y2="977.2" stroke="#e61e46" stroke-width="2"/>
<line x1="846.8" y1="723.3" x2="846.8" y2="977.2" stroke="#6428b4" stroke-width="2"/>
<line x1="953.4" y1="723.3" x2="953.4" y2="977.2" stroke="#285ab4" stroke-width="2"/>
<path d="M729.2 723.3v12.4 M729.2 977.2v-12.4M783.8 723.3v12.4 M783.8 977.2v-12.4M838.4 723.3v12.4 M838.4 977.2v-12.4M893.1 723.3v12.4 M893.1 977.2v-12.4M947.7 723.3v12.4 M947.7 977.2v-12.4M1002.4 723.3v12.4 M1002.4 977.2v-12.4M1057 723.3v12.4 M1057 977.2v-12.4M707.3 732.5h12.4M707.3 809h12.4M707.3 885.4h12.4M707.3 961.9h12.4" fill="none" stroke="#000" stroke-width="1"/>
<rect x="707.3" y="723.3" width="377" height="253.9" fill="none" stroke="#000" stroke-width="1"/>
<path d="M829.6 937.3L838.3 977.2L1039.4 937.3" fill="none" stroke="#000" stroke-width="1.1"/>
<rect x="829.6" y="835" width="209.8" height="102.3" fill="#fff" stroke="#222" stroke-width="1.1"/>
<path d="M889.5 886.1L889.3 894.2L888.7 900.6L887.8 906.3L886.5 911.4L884.8 916.1L882.8 920.1L880.5 923.6L877.9 926.5L874.9 928.8L871.7 930.5L868.0 931.5L863.4 931.8L858.8 931.5L855.1 930.5L851.9 928.8L848.9 926.5L846.3 923.6L844.0 920.1L842.0 916.1L840.3 911.4L839.0 906.3L838.1 900.6L837.5 894.2L837.3 886.1L837.5 878.0L838.1 871.6L839.0 865.9L840.3 860.8L842.0 856.1L844.0 852.1L846.3 848.6L848.9 845.7L851.9 843.4L855.1 841.7L858.8 840.7L863.4 840.4L868.0 840.7L871.7 841.7L874.9 843.4L877.9 845.7L880.5 848.6L882.8 852.1L884.8 856.1L886.5 860.8L887.8 865.9L888.7 871.6L889.3 878.0Z" fill="url(#gor2)"/>
<path d="M889.5 886.1L889.3 894.2L888.7 900.6L887.8 906.3L886.5 911.4L884.8 916.1L882.8 920.1L880.5 923.6L877.9 926.5L874.9 928.8L871.7 930.5L868.0 931.5L863.4 931.8L858.8 931.5L855.1 930.5L851.9 928.8L848.9 926.5L846.3 923.6L844.0 920.1L842.0 916.1L840.3 911.4L839.0 906.3L838.1 900.6L837.5 894.2L837.3 886.1L837.5 878.0L838.1 871.6L839.0 865.9L840.3 860.8L842.0 856.1L844.0 852.1L846.3 848.6L848.9 845.7L851.9 843.4L855.1 841.7L858.8 840.7L863.4 840.4L868.0 840.7L871.7 841.7L874.9 843.4L877.9 845.7L880.5 848.6L882.8 852.1L884.8 856.1L886.5 860.8L887.8 865.9L888.7 871.6L889.3 878.0Z" fill="url(#gsh)"/>
<circle cx="866.3" cy="886.2" r="9" fill="url(#gbr)"/>
<circle cx="1027.1" cy="886.2" r="8.5" fill="url(#gred)"/>
<g clip-path="url(#c22)" fill="none" stroke="#1e8c28" stroke-width="2.1">
<path d="M1261.9 783.6C1263 786.6 1266.2 795.9 1268.7 801.9C1271.4 808.4 1274.5 815.8 1277.9 822.5C1281.3 829.2 1285.1 836 1289.3 841.9C1293.4 847.6 1299.6 853.5 1303 857.9C1305.5 861.2 1307.1 865.1 1309.9 868.2C1313.3 872 1319 876.8 1323.6 880.8C1328.1 884.7 1332.7 888.8 1337.3 892.2C1341.7 895.5 1346.2 898.8 1351.1 901.4C1356.1 904.1 1361.5 906.7 1367.1 908.2C1373.2 909.8 1381.1 910.5 1387.6 911C1393.7 911.5 1399.8 910.9 1405.9 911.2C1412.8 911.5 1421.2 912.3 1428.8 913C1436.8 913.7 1448.7 915.1 1454 915.3C1456.3 915.4 1458.5 914.3 1460.8 914.4C1465 914.7 1473 915.8 1479.1 916.9C1486 918.2 1495.3 920.5 1502 922C1507.7 923.3 1515.7 925.6 1519.1 926.1C1520.3 926.3 1521.4 924.5 1522.6 924.7C1526.2 925.4 1534.8 928.3 1540.9 930C1547.8 932 1556.1 934.4 1563.7 936.4C1571.3 938.4 1579 940.4 1586.6 941.9C1594.2 943.4 1601.8 944.5 1609.5 945.5C1618.2 946.6 1633.8 948 1638.7 948.5"/>
<path d="M1263.4 977.3C1264.5 974.9 1267.7 967.8 1269.9 963.1C1272.7 957.1 1276.6 947.7 1280.2 941.4C1283.5 935.7 1287.6 930.6 1291.6 925.4C1295.8 920.1 1300.5 914.5 1305.3 909.4C1310.2 904.1 1316.3 898 1321.3 893.4C1325.7 889.4 1330.3 885.6 1335 882C1340 878.2 1345.8 873.5 1351.1 870.5C1356.1 867.6 1361.5 865.3 1367.1 863.7C1373.2 862 1380.7 860.9 1387.6 860.2C1395.6 859.4 1405.9 859.1 1415.1 858.6C1424.2 858.1 1434.1 857.7 1442.5 857.3C1450.1 856.9 1458.5 856.8 1465.4 856.1C1471.5 855.5 1477.6 854.5 1483.7 853.4C1489.8 852.3 1496.3 850.8 1502 849.5C1507.4 848.2 1514.8 845.9 1518 845.4C1519.2 845.2 1520.2 846.7 1521.4 846.5C1524.8 845.8 1532.8 842.8 1538.6 841.2C1545.3 839.3 1553.8 837 1561.5 835.1C1569.5 833.1 1578.2 831 1586.6 829.4C1595 827.8 1603.4 826.4 1611.8 825.2C1620.5 824 1634.2 822.5 1638.7 822" stroke-dasharray="8.3 11.2"/>
</g>
<line x1="1366.9" y1="723.3" x2="1366.9" y2="977.2" stroke="#e6d21e" stroke-width="2.1"/>
<line x1="1366.9" y1="723.3" x2="1366.9" y2="977.2" stroke="#285ab4" stroke-width="2.1" stroke-dasharray="8.2 11.4" stroke-dashoffset="-12.1"/>
<line x1="1388.2" y1="723.3" x2="1388.2" y2="977.2" stroke="#e46e1e" stroke-width="2.1"/>
<line x1="1388.2" y1="723.3" x2="1388.2" y2="977.2" stroke="#e61e46" stroke-width="2.1" stroke-dasharray="8.2 11.4" stroke-dashoffset="-12.1"/>
<path d="M1292.9 723.3v12.4 M1292.9 977.2v-12.4M1371.5 723.3v12.4 M1371.5 977.2v-12.4M1450 723.3v12.4 M1450 977.2v-12.4M1528.5 723.3v12.4 M1528.5 977.2v-12.4M1607.1 723.3v12.4 M1607.1 977.2v-12.4M1261.5 732.5h12.4M1261.5 809h12.4M1261.5 885.4h12.4M1261.5 961.9h12.4" fill="none" stroke="#000" stroke-width="1"/>
<rect x="1261.5" y="723.3" width="377.2" height="253.9" fill="none" stroke="#000" stroke-width="1"/>
<line x1="1577.5" y1="759.6" x2="1604.9" y2="759.6" stroke="#1e8c28" stroke-width="2" stroke-dasharray="8.3 11.2"/>
<line x1="1577.5" y1="802.6" x2="1612.9" y2="802.6" stroke="#1e8c28" stroke-width="2"/>
<g>
<text x="228.2" y="30.4" font-size="44" textLength="231.6" lengthAdjust="spacingAndGlyphs">Core-excited</text>
<text><tspan x="707.2" y="30.4" font-size="44" textLength="220.7" lengthAdjust="spacingAndGlyphs">Dissociative</tspan> <tspan x="941.8" y="30.4" font-size="44" textLength="109.7" lengthAdjust="spacingAndGlyphs">Auger</tspan> <tspan x="1067.8" y="30.4" font-size="44" textLength="28.7" lengthAdjust="spacingAndGlyphs">Φ</tspan></text>
<text><tspan x="1295.4" y="30.4" font-size="44" textLength="120.3" lengthAdjust="spacingAndGlyphs">Bound</tspan> <tspan x="1432.1" y="30.4" font-size="44" textLength="110.4" lengthAdjust="spacingAndGlyphs">Auger</tspan> <tspan x="1555.7" y="30.4" font-size="44" textLength="33.6" lengthAdjust="spacingAndGlyphs">Π</tspan><tspan x="1589.1" y="37.1" font-size="31" textLength="15.6" lengthAdjust="spacingAndGlyphs">1</tspan></text>
<text x="153.6" y="87.6" font-size="48.5" textLength="24.1" lengthAdjust="spacingAndGlyphs" fill="#000" font-weight="bold">a</text>
<text x="707.5" y="87.6" font-size="48.5" textLength="26.4" lengthAdjust="spacingAndGlyphs" fill="#000" font-weight="bold">b</text>
<text x="1260.3" y="87.6" font-size="48.5" textLength="22.6" lengthAdjust="spacingAndGlyphs" fill="#000" font-weight="bold">c</text>
<text x="152.7" y="402.1" font-size="48.5" textLength="26.7" lengthAdjust="spacingAndGlyphs" fill="#000" font-weight="bold">d</text>
<text x="706.2" y="402.1" font-size="48.5" textLength="22.3" lengthAdjust="spacingAndGlyphs" fill="#000" font-weight="bold">e</text>
<text x="1262.6" y="402.1" font-size="48.5" textLength="18.3" lengthAdjust="spacingAndGlyphs" fill="#000" font-weight="bold">f</text>
<text x="153.7" y="709.3" font-size="48.5" textLength="23.6" lengthAdjust="spacingAndGlyphs" fill="#000" font-weight="bold">g</text>
<text x="707.0" y="716.2" font-size="48.5" textLength="27.0" lengthAdjust="spacingAndGlyphs" fill="#000" font-weight="bold">h</text>
<text x="1262.2" y="716.2" font-size="48.5" textLength="13.0" lengthAdjust="spacingAndGlyphs" fill="#000" font-weight="bold">i</text>
<text x="202.8" y="84" font-size="44" textLength="112.9" lengthAdjust="spacingAndGlyphs">Ampl.</text>
<text x="746.2" y="84" font-size="44" textLength="112.9" lengthAdjust="spacingAndGlyphs">Ampl.</text>
<text x="957.3" y="84" font-size="44" textLength="112.9" lengthAdjust="spacingAndGlyphs">Ampl.</text>
<text x="1299.9" y="84" font-size="44" textLength="112.9" lengthAdjust="spacingAndGlyphs">Ampl.</text>
<text x="1525.0" y="137.1" font-size="44" textLength="65.9" lengthAdjust="spacingAndGlyphs" fill="#e6d21e">0 fs</text>
<text x="1524.6" y="175.3" font-size="44" textLength="66.3" lengthAdjust="spacingAndGlyphs" fill="#e46e1e">5 fs</text>
<text x="1525.2" y="213.5" font-size="44" textLength="87.1" lengthAdjust="spacingAndGlyphs" fill="#e61e46">10 fs</text>
<text x="1525.2" y="251.7" font-size="44" textLength="87.1" lengthAdjust="spacingAndGlyphs" fill="#b428aa">15 fs</text>
<text x="1525.4" y="289.9" font-size="44" textLength="86.9" lengthAdjust="spacingAndGlyphs" fill="#6428b4">20 fs</text>
<text x="1525.6" y="328.1" font-size="44" textLength="86.7" lengthAdjust="spacingAndGlyphs" fill="#285ab4">40 fs</text>
<text x="1519.4" y="770.5" font-size="44" textLength="32.5" lengthAdjust="spacingAndGlyphs" fill="#1e8c28">O</text>
<text x="1520.3" y="813.3" font-size="44" textLength="33.6" lengthAdjust="spacingAndGlyphs" fill="#1e8c28">C</text>
<text><tspan x="509.3" y="399.3" font-size="44" textLength="29.9" lengthAdjust="spacingAndGlyphs">×</tspan><tspan x="539.9" y="399.3" font-size="44" textLength="43.9" lengthAdjust="spacingAndGlyphs">10</tspan><tspan x="583.4" y="385.1" font-size="31" textLength="24.8" lengthAdjust="spacingAndGlyphs">−</tspan><tspan x="608.1" y="383.9" font-size="31" textLength="17.4" lengthAdjust="spacingAndGlyphs">3</tspan></text>
<text><tspan x="1063.7" y="399.3" font-size="44" textLength="29.9" lengthAdjust="spacingAndGlyphs">×</tspan><tspan x="1094.3" y="399.3" font-size="44" textLength="43.9" lengthAdjust="spacingAndGlyphs">10</tspan><tspan x="1137.8" y="385.1" font-size="31" textLength="24.8" lengthAdjust="spacingAndGlyphs">−</tspan><tspan x="1162.4" y="383.9" font-size="31" textLength="17.2" lengthAdjust="spacingAndGlyphs">4</tspan></text>
<text><tspan x="1617.8" y="399.3" font-size="44" textLength="29.9" lengthAdjust="spacingAndGlyphs">×</tspan><tspan x="1648.4" y="399.3" font-size="44" textLength="43.9" lengthAdjust="spacingAndGlyphs">10</tspan><tspan x="1691.9" y="385.1" font-size="31" textLength="24.8" lengthAdjust="spacingAndGlyphs">−</tspan><tspan x="1717.6" y="383.9" font-size="31" textLength="16.1" lengthAdjust="spacingAndGlyphs">4</tspan></text>
<text><tspan x="293.0" y="1082.4" font-size="44" textLength="30.0" lengthAdjust="spacingAndGlyphs" font-style="italic">R</tspan> <tspan x="339.1" y="1085.2" font-size="50.99" textLength="9.1" lengthAdjust="spacingAndGlyphs">[</tspan><tspan x="349.7" y="1082.4" font-size="44" textLength="29.7" lengthAdjust="spacingAndGlyphs">Å</tspan><tspan x="381.3" y="1085.2" font-size="50.99" textLength="8.6" lengthAdjust="spacingAndGlyphs">]</tspan></text>
<text><tspan x="847.3" y="1082.4" font-size="44" textLength="30.0" lengthAdjust="spacingAndGlyphs" font-style="italic">R</tspan> <tspan x="893.4" y="1085.2" font-size="50.99" textLength="9.1" lengthAdjust="spacingAndGlyphs">[</tspan><tspan x="904.0" y="1082.4" font-size="44" textLength="29.7" lengthAdjust="spacingAndGlyphs">Å</tspan><tspan x="935.6" y="1085.2" font-size="50.99" textLength="8.6" lengthAdjust="spacingAndGlyphs">]</tspan></text>
<text><tspan x="1401.5" y="1082.4" font-size="44" textLength="30.0" lengthAdjust="spacingAndGlyphs" font-style="italic">R</tspan> <tspan x="1447.6" y="1085.2" font-size="50.99" textLength="9.1" lengthAdjust="spacingAndGlyphs">[</tspan><tspan x="1458.2" y="1082.4" font-size="44" textLength="29.7" lengthAdjust="spacingAndGlyphs">Å</tspan><tspan x="1489.8" y="1085.2" font-size="50.99" textLength="8.6" lengthAdjust="spacingAndGlyphs">]</tspan></text>
<text transform="rotate(-90)"><tspan x="-291.3" y="32.2" font-size="44" textLength="57.3" lengthAdjust="spacingAndGlyphs">BE</tspan> <tspan x="-216.7" y="36" font-size="51.11" textLength="9.4" lengthAdjust="spacingAndGlyphs">[</tspan><tspan x="-208.1" y="32.2" font-size="44" textLength="48.7" lengthAdjust="spacingAndGlyphs">eV</tspan><tspan x="-160.6" y="36" font-size="51.11" textLength="8.9" lengthAdjust="spacingAndGlyphs">]</tspan></text>
<text transform="rotate(-90)"><tspan x="-592.4" y="32.8" font-size="44" textLength="30.9" lengthAdjust="spacingAndGlyphs" font-style="italic">E</tspan> <tspan x="-543.9" y="36.6" font-size="51.11" textLength="9.4" lengthAdjust="spacingAndGlyphs">[</tspan><tspan x="-535.3" y="32.8" font-size="44" textLength="48.7" lengthAdjust="spacingAndGlyphs">eV</tspan><tspan x="-487.8" y="36.6" font-size="51.11" textLength="8.9" lengthAdjust="spacingAndGlyphs">]</tspan></text>
<text transform="rotate(-90)"><tspan x="-899.1" y="31.6" font-size="44" textLength="34.4" lengthAdjust="spacingAndGlyphs">Δ</tspan><tspan x="-867.2" y="31.6" font-size="44" textLength="36.8" lengthAdjust="spacingAndGlyphs" font-style="italic">Q</tspan><tspan x="-830.0" y="37.4" font-size="34" textLength="27.0" lengthAdjust="spacingAndGlyphs">m</tspan></text>
<text transform="rotate(-90)"><tspan x="-617.7" y="1740.4" font-size="44" textLength="7.5" lengthAdjust="spacingAndGlyphs">|</tspan><tspan x="-603.5" y="1740.4" font-size="44" textLength="18.6" lengthAdjust="spacingAndGlyphs" font-style="italic">χ</tspan><tspan x="-579.5" y="1740.4" font-size="44" textLength="16.1" lengthAdjust="spacingAndGlyphs">(</tspan><tspan x="-562.5" y="1740.4" font-size="44" textLength="28.8" lengthAdjust="spacingAndGlyphs" font-style="italic">R</tspan><tspan x="-531.4" y="1740.4" font-size="44" textLength="7.4" lengthAdjust="spacingAndGlyphs">,</tspan><tspan x="-520.9" y="1740.4" font-size="44" textLength="14.2" lengthAdjust="spacingAndGlyphs" font-style="italic">t</tspan><tspan x="-499.1" y="1740.4" font-size="44" textLength="16.3" lengthAdjust="spacingAndGlyphs">)</tspan><tspan x="-479.5" y="1740.4" font-size="44" textLength="7.5" lengthAdjust="spacingAndGlyphs">|</tspan><tspan x="-470.4" y="1725.2" font-size="31" textLength="17.2" lengthAdjust="spacingAndGlyphs">2</tspan></text>
<text transform="rotate(90)"><tspan x="886.0" y="-489.4" font-size="36" textLength="27.0" lengthAdjust="spacingAndGlyphs" fill="#000">Δ</tspan><tspan x="915.1" y="-489.4" font-size="36" textLength="16.7" lengthAdjust="spacingAndGlyphs" fill="#000" font-style="italic">ρ</tspan></text>
<text transform="rotate(90)"><tspan x="862.7" y="-1051.8" font-size="36" textLength="28.1" lengthAdjust="spacingAndGlyphs" fill="#000">Δ</tspan><tspan x="893.1" y="-1051.8" font-size="36" textLength="16.5" lengthAdjust="spacingAndGlyphs" fill="#000" font-style="italic">ρ</tspan></text>
<text x="134.8" y="138.8" font-size="44" text-anchor="end" textLength="63.6" lengthAdjust="spacingAndGlyphs">303</text>
<text x="134.8" y="223.1" font-size="44" text-anchor="end" textLength="63.6" lengthAdjust="spacingAndGlyphs">298</text>
<text x="134.8" y="307.2" font-size="44" text-anchor="end" textLength="63.6" lengthAdjust="spacingAndGlyphs">293</text>
<text x="690.9" y="136.4" font-size="44" text-anchor="end" textLength="63.6" lengthAdjust="spacingAndGlyphs">330</text>
<text x="690.9" y="231.5" font-size="44" text-anchor="end" textLength="63.6" lengthAdjust="spacingAndGlyphs">315</text>
<text x="690.9" y="326.6" font-size="44" text-anchor="end" textLength="63.6" lengthAdjust="spacingAndGlyphs">300</text>
<text x="1245.2" y="136.4" font-size="44" text-anchor="end" textLength="63.6" lengthAdjust="spacingAndGlyphs">330</text>
<text x="1245.2" y="231.5" font-size="44" text-anchor="end" textLength="63.6" lengthAdjust="spacingAndGlyphs">315</text>
<text x="1245.2" y="326.6" font-size="44" text-anchor="end" textLength="63.6" lengthAdjust="spacingAndGlyphs">300</text>
<text x="135.3" y="435.6" font-size="44" text-anchor="end" textLength="63.6" lengthAdjust="spacingAndGlyphs">550</text>
<text x="135.3" y="515" font-size="44" text-anchor="end" textLength="63.6" lengthAdjust="spacingAndGlyphs">545</text>
<text x="135.3" y="594.3" font-size="44" text-anchor="end" textLength="63.6" lengthAdjust="spacingAndGlyphs">540</text>
<text x="135.3" y="673.7" font-size="44" text-anchor="end" textLength="63.6" lengthAdjust="spacingAndGlyphs">535</text>
<text x="687" y="437.3" font-size="44" text-anchor="end" textLength="42.4" lengthAdjust="spacingAndGlyphs">40</text>
<text x="687" y="496.4" font-size="44" text-anchor="end" textLength="42.4" lengthAdjust="spacingAndGlyphs">35</text>
<text x="687" y="555.5" font-size="44" text-anchor="end" textLength="42.4" lengthAdjust="spacingAndGlyphs">30</text>
<text x="687" y="614.6" font-size="44" text-anchor="end" textLength="42.4" lengthAdjust="spacingAndGlyphs">25</text>
<text x="687" y="673.7" font-size="44" text-anchor="end" textLength="42.4" lengthAdjust="spacingAndGlyphs">20</text>
<text x="1242" y="439.2" font-size="44" text-anchor="end" textLength="42.4" lengthAdjust="spacingAndGlyphs">27</text>
<text x="1242" y="497.8" font-size="44" text-anchor="end" textLength="42.4" lengthAdjust="spacingAndGlyphs">24</text>
<text x="1242" y="556.4" font-size="44" text-anchor="end" textLength="42.4" lengthAdjust="spacingAndGlyphs">21</text>
<text x="1242" y="615.1" font-size="44" text-anchor="end" textLength="42.4" lengthAdjust="spacingAndGlyphs">18</text>
<text x="1242" y="673.7" font-size="44" text-anchor="end" textLength="42.4" lengthAdjust="spacingAndGlyphs">15</text>
<text x="134.8" y="743.8" font-size="44" text-anchor="end" textLength="54.2" lengthAdjust="spacingAndGlyphs">0.5</text>
<text x="686.6" y="743.8" font-size="44" text-anchor="end" textLength="54.2" lengthAdjust="spacingAndGlyphs">0.5</text>
<text x="1240.9" y="743.8" font-size="44" text-anchor="end" textLength="54.2" lengthAdjust="spacingAndGlyphs">0.5</text>
<text x="134.8" y="820.3" font-size="44" text-anchor="end" textLength="54.2" lengthAdjust="spacingAndGlyphs">0.0</text>
<text x="686.6" y="820.3" font-size="44" text-anchor="end" textLength="54.2" lengthAdjust="spacingAndGlyphs">0.0</text>
<text x="1240.9" y="820.3" font-size="44" text-anchor="end" textLength="54.2" lengthAdjust="spacingAndGlyphs">0.0</text>
<text x="134.8" y="896.7" font-size="44" text-anchor="end" textLength="68.3" lengthAdjust="spacingAndGlyphs">-0.5</text>
<text x="686.6" y="896.7" font-size="44" text-anchor="end" textLength="68.3" lengthAdjust="spacingAndGlyphs">-0.5</text>
<text x="1240.9" y="896.7" font-size="44" text-anchor="end" textLength="68.3" lengthAdjust="spacingAndGlyphs">-0.5</text>
<text x="134.8" y="973.2" font-size="44" text-anchor="end" textLength="68.3" lengthAdjust="spacingAndGlyphs">-1.0</text>
<text x="686.6" y="973.2" font-size="44" text-anchor="end" textLength="68.3" lengthAdjust="spacingAndGlyphs">-1.0</text>
<text x="1240.9" y="973.2" font-size="44" text-anchor="end" textLength="68.3" lengthAdjust="spacingAndGlyphs">-1.0</text>
<text x="538.7" y="435.6" font-size="44" textLength="21.2" lengthAdjust="spacingAndGlyphs">6</text>
<text x="538.7" y="515" font-size="44" textLength="21.2" lengthAdjust="spacingAndGlyphs">4</text>
<text x="538.7" y="594.3" font-size="44" textLength="21.2" lengthAdjust="spacingAndGlyphs">2</text>
<text x="538.7" y="673.7" font-size="44" textLength="21.2" lengthAdjust="spacingAndGlyphs">0</text>
<text x="1100.3" y="435.6" font-size="44" textLength="21.2" lengthAdjust="spacingAndGlyphs">3</text>
<text x="1100.3" y="515" font-size="44" textLength="21.2" lengthAdjust="spacingAndGlyphs">2</text>
<text x="1100.3" y="594.3" font-size="44" textLength="21.2" lengthAdjust="spacingAndGlyphs">1</text>
<text x="1100.3" y="673.7" font-size="44" textLength="21.2" lengthAdjust="spacingAndGlyphs">0</text>
<text x="1655.2" y="435.6" font-size="44" textLength="21.2" lengthAdjust="spacingAndGlyphs">3</text>
<text x="1655.2" y="515" font-size="44" textLength="21.2" lengthAdjust="spacingAndGlyphs">2</text>
<text x="1655.2" y="594.3" font-size="44" textLength="21.2" lengthAdjust="spacingAndGlyphs">1</text>
<text x="1655.2" y="673.7" font-size="44" textLength="21.2" lengthAdjust="spacingAndGlyphs">0</text>
<text x="178.1" y="1023.2" font-size="44" text-anchor="middle" textLength="54.2" lengthAdjust="spacingAndGlyphs">0.8</text>
<text x="1292.6" y="1031.8" font-size="44" text-anchor="middle" textLength="54.2" lengthAdjust="spacingAndGlyphs">0.8</text>
<text x="256.7" y="1023.2" font-size="44" text-anchor="middle" textLength="54.2" lengthAdjust="spacingAndGlyphs">1.3</text>
<text x="1371.2" y="1031.8" font-size="44" text-anchor="middle" textLength="54.2" lengthAdjust="spacingAndGlyphs">1.3</text>
<text x="335.2" y="1023.2" font-size="44" text-anchor="middle" textLength="54.2" lengthAdjust="spacingAndGlyphs">1.8</text>
<text x="1449.7" y="1031.8" font-size="44" text-anchor="middle" textLength="54.2" lengthAdjust="spacingAndGlyphs">1.8</text>
<text x="413.7" y="1023.2" font-size="44" text-anchor="middle" textLength="54.2" lengthAdjust="spacingAndGlyphs">2.3</text>
<text x="1528.2" y="1031.8" font-size="44" text-anchor="middle" textLength="54.2" lengthAdjust="spacingAndGlyphs">2.3</text>
<text x="492.3" y="1023.2" font-size="44" text-anchor="middle" textLength="54.2" lengthAdjust="spacingAndGlyphs">2.8</text>
<text x="1606.8" y="1031.8" font-size="44" text-anchor="middle" textLength="54.2" lengthAdjust="spacingAndGlyphs">2.8</text>
<text x="730" y="1023" font-size="44" text-anchor="middle" textLength="21.2" lengthAdjust="spacingAndGlyphs">1</text>
<text x="784.6" y="1023" font-size="44" text-anchor="middle" textLength="21.2" lengthAdjust="spacingAndGlyphs">2</text>
<text x="839.2" y="1023" font-size="44" text-anchor="middle" textLength="21.2" lengthAdjust="spacingAndGlyphs">3</text>
<text x="893.9" y="1023" font-size="44" text-anchor="middle" textLength="21.2" lengthAdjust="spacingAndGlyphs">4</text>
<text x="948.5" y="1023" font-size="44" text-anchor="middle" textLength="21.2" lengthAdjust="spacingAndGlyphs">5</text>
<text x="1003.2" y="1023" font-size="44" text-anchor="middle" textLength="21.2" lengthAdjust="spacingAndGlyphs">6</text>
<text x="1057.8" y="1023" font-size="44" text-anchor="middle" textLength="21.2" lengthAdjust="spacingAndGlyphs">7</text>
</g>
</svg>
</body></html>
